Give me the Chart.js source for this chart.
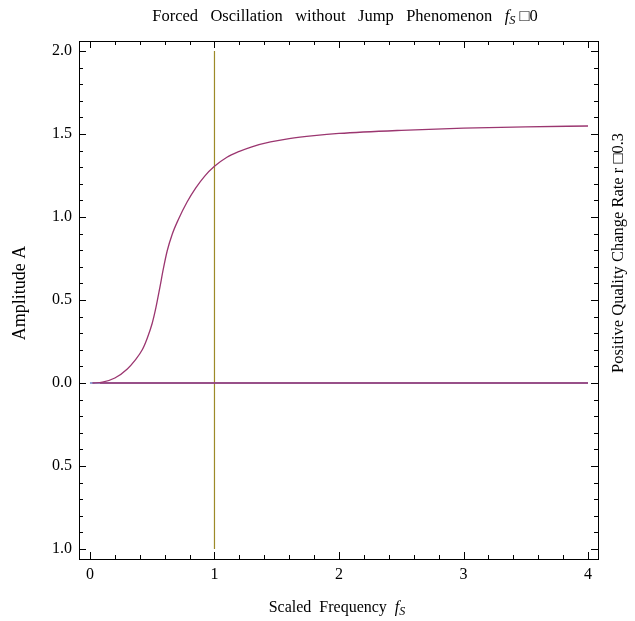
<!DOCTYPE html>
<html>
<head>
<meta charset="utf-8">
<script src="https://cdn.jsdelivr.net/npm/chart.js@4.4.1/dist/chart.umd.min.js"></script>
<style>
  html, body { margin: 0; padding: 0; background: #fff; }
  #wrap { width: 635px; height: 621px; }
</style>
</head>
<body>
<div id="wrap"><canvas id="chart"></canvas></div>
<script>
// amplitude curve
var freqS = [0.02, 0.1, 0.2, 0.3, 0.36, 0.42, 0.46, 0.5, 0.53, 0.56, 0.59, 0.62, 0.66, 0.71, 0.78, 0.85, 0.92, 1.0, 1.1, 1.2, 1.3, 1.45, 1.6, 1.8, 2.0, 2.5, 3.0, 3.5, 4.0];
var ampA = [0, 0.005, 0.03, 0.085, 0.135, 0.2, 0.27, 0.36, 0.455, 0.57, 0.69, 0.795, 0.895, 0.985, 1.09, 1.175, 1.245, 1.305, 1.36, 1.395, 1.423, 1.452, 1.472, 1.49, 1.503, 1.522, 1.535, 1.543, 1.548];

// zero branch and the marker line at f_S = 1
var zeroX = [0.08, 4.0];
var zeroY = [0, 0];
var blueX = [0, 4.0];
var blueY = [0, 0];
var markX = [1, 1];
var markY = [-1, 2];

// ticks
var xTicks = [0, 1, 2, 3, 4];
var xTickLabels = ["0", "1", "2", "3", "4"];
var yTicks = [-1, -0.5, 0, 0.5, 1, 1.5, 2];
var yTickLabels = ["1.0", "0.5", "0.0", "0.5", "1.0", "1.5", "2.0"];

var serif = "'Liberation Serif', 'Times New Roman', serif";

function pts(xs, ys) {
    return xs.map((x, i) => ({ x: x, y: ys[i] }));
}

// draws text made of pieces (plain / italic / subscript), centred on (cx, cy)
function richText(ctx, parts, cx, cy, size, rot) {
    ctx.save();
    ctx.translate(cx, cy);
    ctx.rotate(rot || 0);
    ctx.fillStyle = "#000";
    ctx.textBaseline = "alphabetic";
    let total = 0;
    parts.forEach(p => {
        let s = p.sub ? size * 0.75 : size;
        ctx.font = (p.italic ? "italic " : "") + s + "px " + serif;
        p.w = ctx.measureText(p.t).width;
        total += p.w;
    });
    let x = -total / 2;
    parts.forEach(p => {
        let s = p.sub ? size * 0.75 : size;
        ctx.font = (p.italic ? "italic " : "") + s + "px " + serif;
        ctx.fillText(p.t, x, p.sub ? size * 0.55 : size * 0.35);
        x += p.w;
    });
    ctx.restore();
}

// Mathematica-like frame with inward ticks on all four sides, plus the labels
var framePlugin = {
    id: "frame",
    afterDraw(chart) {
        let ctx = chart.ctx;
        let a = chart.chartArea;
        let xs = chart.scales.x, ys = chart.scales.y;
        ctx.save();
        ctx.strokeStyle = "#000";
        ctx.lineWidth = 1;
        ctx.strokeRect(Math.round(a.left) + 0.5, Math.round(a.top) + 0.5, Math.round(a.right - a.left), Math.round(a.bottom - a.top));
        ctx.beginPath();
        for (let i = 0; i <= 20; i++) {
            let v = i * 0.2;
            let len = (i % 5 === 0) ? 7 : 4;
            let px = Math.round(xs.getPixelForValue(v)) + 0.5;
            ctx.moveTo(px, a.bottom); ctx.lineTo(px, a.bottom - len);
            ctx.moveTo(px, a.top); ctx.lineTo(px, a.top + len);
        }
        for (let i = -10; i <= 20; i++) {
            let v = i * 0.1;
            let len = (i % 5 === 0) ? 7 : 4;
            let py = Math.round(ys.getPixelForValue(v)) + 0.5;
            ctx.moveTo(a.left, py); ctx.lineTo(a.left + len, py);
            ctx.moveTo(a.right, py); ctx.lineTo(a.right - len, py);
        }
        ctx.stroke();
        ctx.restore();

        richText(ctx, [
            { t: "Forced   Oscillation   without   Jump   Phenomenon   " },
            { t: "f", italic: true },
            { t: "S", italic: true, sub: true },
            { t: " \u25A10" }
        ], 345, 15, 16.5);
        richText(ctx, [
            { t: "Scaled  Frequency  " },
            { t: "f", italic: true },
            { t: "S", italic: true, sub: true }
        ], 337, 606, 16);
        richText(ctx, [{ t: "Amplitude A" }], 19, 293, 18, -Math.PI / 2);
        richText(ctx, [{ t: "Positive Quality Change Rate r \u25A10.3" }], 617, 253, 16.5, -Math.PI / 2);
    }
};

new Chart(document.getElementById("chart"), {
    type: "scatter",
    data: {
        datasets: [
            {
                data: pts(freqS, ampA),
                showLine: true,
                borderColor: "#9b3670",
                borderWidth: 1.3,
                pointRadius: 0,
                cubicInterpolationMode: "monotone"
            },
            {
                data: pts(zeroX, zeroY),
                showLine: true,
                borderColor: "#9b3670",
                borderWidth: 1.3,
                pointRadius: 0
            },
            {
                data: pts(blueX, blueY),
                showLine: true,
                borderColor: "#6b7fc4",
                borderWidth: 1.3,
                pointRadius: 0
            },
            {
                data: pts(markX, markY),
                showLine: true,
                borderColor: "#9c8a28",
                borderWidth: 1.2,
                pointRadius: 0
            }
        ]
    },
    options: {
        responsive: true,
        maintainAspectRatio: false,
        animation: false,
        layout: { padding: { top: 41, right: 37, left: 0, bottom: 0 } },
        plugins: {
            legend: { display: false },
            tooltip: { enabled: false }
        },
        scales: {
            x: {
                type: "linear",
                min: -0.088,
                max: 4.08,
                afterBuildTicks: (s) => { s.ticks = xTicks.map(v => ({ value: v })); },
                afterFit: (s) => { s.height = 62; },
                grid: { display: false, drawTicks: false },
                border: { display: false },
                ticks: {
                    padding: 6,
                    color: "#000",
                    maxRotation: 0,
                    font: { family: serif, size: 16 },
                    callback: (v, i) => xTickLabels[i]
                }
            },
            y: {
                type: "linear",
                min: -1.06,
                max: 2.06,
                afterBuildTicks: (s) => { s.ticks = yTicks.map(v => ({ value: v })); },
                afterFit: (s) => { s.width = 79; },
                grid: { display: false, drawTicks: false },
                border: { display: false },
                ticks: {
                    padding: 7,
                    color: "#000",
                    font: { family: serif, size: 16 },
                    callback: (v, i) => yTickLabels[i]
                }
            }
        }
    },
    plugins: [framePlugin]
});
</script>
</body>
</html>
